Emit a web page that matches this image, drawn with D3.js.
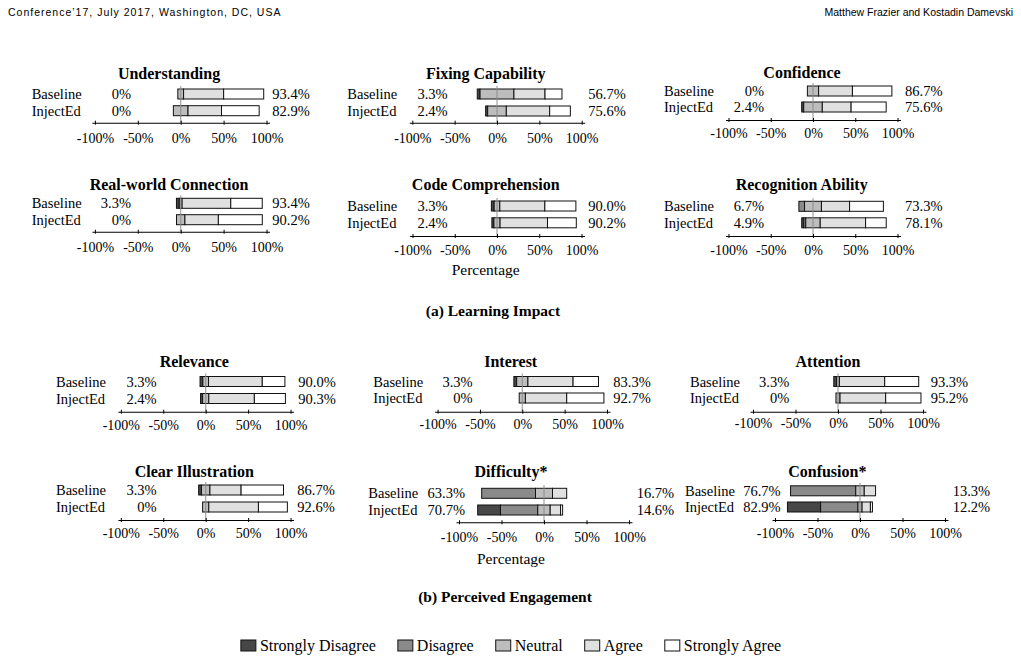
<!DOCTYPE html>
<html><head><meta charset="utf-8">
<script src="https://cdn.jsdelivr.net/npm/d3@7"></script>
<style>
body{margin:0;background:#fff}
svg{display:block}
text{font-family:"Liberation Serif","Times New Roman",serif;fill:#000}
</style>
</head><body>
<svg id="c" width="1021" height="661"></svg>
<script>
// ---------- data ----------
const categories = ["Understanding","Fixing Capability","Confidence","Real-world Connection","Code Comprehension","Recognition Ability",
  "Relevance","Interest","Attention","Clear Illustration","Difficulty*","Confusion*"];
const groups = ["Baseline","InjectEd"];
const levels = ["Strongly Disagree","Disagree","Neutral","Agree","Strongly Agree"];
const tickValues = [-100,-50,0,50,100];
const tickLabels = ["-100%","-50%","0%","50%","100%"];
const sections = ["(a) Learning Impact","(b) Perceived Engagement"];
const axisTitle = "Percentage";

// Baseline responses (%)
const baselineSD = [0, 3.3, 0, 3.3, 3.3, 0,   3.3, 3.3, 3.3, 3.3, 0, 0];
const baselineD  = [0, 0,   0, 0,   0,   6.7, 0,   0,   0,   0,   63.3, 76.7];
const baselineN  = [6.7, 40.0, 13.3, 3.3, 6.7, 20.0, 6.7, 13.3, 3.3, 10.0, 20.0, 10.0];
const baselineA  = [46.7, 36.7, 40.0, 56.7, 53.3, 33.3, 63.3, 53.3, 53.3, 36.7, 16.7, 13.3];
const baselineSA = [46.7, 20.0, 46.7, 36.7, 36.7, 40.0, 26.7, 30.0, 40.0, 50.0, 0, 0];
// InjectEd responses (%)
const injectedSD = [0, 2.4, 2.4, 0, 2.4, 2.4, 2.4, 0, 0, 0, 26.8, 39.0];
const injectedD  = [0, 0,   0,   0, 0,   2.4, 0,   0, 0, 0, 43.9, 43.9];
const injectedN  = [17.1, 22.0, 22.0, 9.8, 7.3, 17.1, 7.3, 7.3, 4.8, 7.3, 14.6, 4.9];
const injectedA  = [39.0, 51.2, 34.1, 39.0, 56.1, 53.7, 53.7, 48.8, 53.7, 58.5, 12.2, 9.8];
const injectedSA = [43.9, 24.4, 41.5, 51.2, 34.1, 24.4, 36.6, 43.9, 41.5, 34.1, 2.4, 2.4];
// printed totals
const baselineLow  = ["0%","3.3%","0%","3.3%","3.3%","6.7%","3.3%","3.3%","3.3%","3.3%","63.3%","76.7%"];
const baselineHigh = ["93.4%","56.7%","86.7%","93.4%","90.0%","73.3%","90.0%","83.3%","93.3%","86.7%","16.7%","13.3%"];
const injectedLow  = ["0%","2.4%","2.4%","0%","2.4%","4.9%","2.4%","0%","0%","0%","70.7%","82.9%"];
const injectedHigh = ["82.9%","75.6%","75.6%","90.2%","90.2%","78.1%","90.3%","92.7%","95.2%","92.6%","14.6%","12.2%"];

// ---------- layout (pixels) ----------
const colors = ["#474747","#8a8a8a","#bdbdbd","#e0e0e0","#ffffff"];
const L = [
 {x0:180.7,k:0.858,tx:169,  ty:73,   yB:94,   yI:110.7,ax:122.7,tk:138,  nx:31.7, lx:131,  hx:272.3},
 {x0:497,  k:0.847,tx:485.7,ty:73,   yB:94,   yI:111,  ax:122.7,tk:137.7,nx:347.3,lx:447.7,hx:588.3},
 {x0:813,  k:0.845,tx:802,  ty:72.7, yB:91,   yI:107,  ax:120,  tk:132.7,nx:664,  lx:764,  hx:905},
 {x0:180.7,k:0.858,tx:169,  ty:184,  yB:203.3,yI:219.7,ax:231.7,tk:246.7,nx:31.7, lx:131,  hx:272.3},
 {x0:497,  k:0.845,tx:485.7,ty:184,  yB:206,  yI:222.8,ax:236,  tk:250,  nx:347.3,lx:447.7,hx:588.3, xl:270},
 {x0:813,  k:0.845,tx:801.7,ty:184,  yB:206.3,yI:222.8,ax:236,  tk:250,  nx:664,  lx:764,  hx:905},
 {x0:205.7,k:0.8485,tx:194.3,ty:361, yB:381.5,yI:398.5,ax:411.7,tk:425,  nx:56,   lx:156.7,hx:298.3},
 {x0:522.3,k:0.847,tx:510.7,ty:361,  yB:381.5,yI:398,  ax:411.7,tk:424.3,nx:373.3,lx:472.7,hx:613.3},
 {x0:838,  k:0.85, tx:828,  ty:361,  yB:381.5,yI:398,  ax:411.7,tk:423.3,nx:690,  lx:789.3,hx:930.7},
 {x0:205.7,k:0.8485,tx:194.3,ty:471.7,yB:490, yI:507,  ax:520,  tk:532.7,nx:56,   lx:156.7,hx:297.3},
 {x0:544,  k:0.85, tx:511,  ty:471.7,yB:493.3,yI:510,  ax:522.3,tk:537.3,nx:368.3,lx:465,  hx:636.7, xl:558.3},
 {x0:860,  k:0.85, tx:827.3,ty:471.7,yB:490.8,yI:507,  ax:520,  tk:532.7,nx:685,  lx:780.7,hx:952.7}
];
const sectionPos = [{x:493,y:311},{x:505,y:597}];

const svg = d3.select("#c");
const FS = 14.5;

// header
svg.append("text").attr("x",8).attr("y",16).style("font-family","'Liberation Sans',sans-serif")
  .style("font-size","10.5px").style("letter-spacing","1px").text("Conference’17, July 2017, Washington, DC, USA");
svg.append("text").attr("x",1013).attr("y",16).attr("text-anchor","end").style("font-family","'Liberation Sans',sans-serif")
  .style("font-size","10.5px").text("Matthew Frazier and Kostadin Damevski");

categories.forEach((cat,i)=>{
  const p = L[i];
  const g = svg.append("g");
  const x = d3.scaleLinear().domain([-103.5,103.5]).range([p.x0-103.5*p.k, p.x0+103.5*p.k]);
  const y = d3.scalePoint().domain(groups).range([p.yB,p.yI]);
  const rows = [
    {grp:"Baseline", v:[baselineSD[i],baselineD[i],baselineN[i],baselineA[i],baselineSA[i]], lo:baselineLow[i], hi:baselineHigh[i]},
    {grp:"InjectEd", v:[injectedSD[i],injectedD[i],injectedN[i],injectedA[i],injectedSA[i]], lo:injectedLow[i], hi:injectedHigh[i]}
  ];
  const bh = 10;
  rows.forEach(r=>{
    let start = -(r.v[0]+r.v[1]+r.v[2]/2);
    const segs = r.v.map((val,j)=>{const s={x0:start,x1:start+val,j}; start+=val; return s;});
    g.selectAll(null).data(segs.filter(s=>s.x1-s.x0>0)).enter().append("rect")
      .attr("x",s=>x(s.x0)).attr("width",s=>x(s.x1)-x(s.x0))
      .attr("y",y(r.grp)-bh/2).attr("height",bh)
      .attr("fill",s=>colors[s.j]).attr("stroke","#111").attr("stroke-width",1);
    g.append("text").attr("x",p.nx).attr("y",y(r.grp)).attr("dy","0.35em").style("font-size",FS+"px").text(r.grp);
    g.append("text").attr("x",p.lx).attr("y",y(r.grp)).attr("dy","0.35em").attr("text-anchor","end").style("font-size",FS+"px").text(r.lo);
    g.append("text").attr("x",p.hx).attr("y",y(r.grp)).attr("dy","0.35em").style("font-size",FS+"px").text(r.hi);
  });
  // zero line
  g.append("line").attr("x1",x(0)).attr("x2",x(0)).attr("y1",p.yB-bh/2-3).attr("y2",p.ax)
    .attr("stroke","#8c8c8c").attr("stroke-width",1.2).attr("opacity",0.8);
  // axis
  const axis = d3.axisBottom(x).tickValues(tickValues).tickFormat((d,j)=>tickLabels[j]).tickSize(3).tickSizeOuter(0);
  const ag = g.append("g").attr("transform",`translate(0,${p.ax})`).call(axis);
  ag.select(".domain").attr("stroke","#000").attr("stroke-width",1.1);
  ag.selectAll(".tick line").attr("stroke","#000").attr("y1",-2).attr("y2",2);
  ag.selectAll(".tick text").attr("y",p.tk-p.ax).attr("dy","0.35em")
    .style("font-family","'Liberation Serif',serif").style("font-size","14px").attr("fill","#000");
  // title
  g.append("text").attr("x",p.tx).attr("y",p.ty).attr("dy","0.35em").attr("text-anchor","middle")
    .style("font-size","16px").style("font-weight","bold").text(cat);
  if(p.xl){
    g.append("text").attr("x",p.tx).attr("y",p.xl).attr("dy","0.35em").attr("text-anchor","middle")
      .style("font-size","15.5px").text(axisTitle);
  }
});

sections.forEach((s,i)=>{
  svg.append("text").attr("x",sectionPos[i].x).attr("y",sectionPos[i].y).attr("dy","0.35em").attr("text-anchor","middle")
    .style("font-size","15.5px").style("font-weight","bold").text(s);
});

// legend: laid out sequentially from measured text widths
const lg = svg.append("g");
const legFS = 16, sw = 15, sh = 11, sgap = 4, itemGap = 22;
const items = levels.map((lv,j)=>{
  const t = lg.append("text").attr("y",645.5).attr("dy","0.35em").style("font-size",legFS+"px").text(lv);
  const r = lg.append("rect").attr("y",640).attr("width",sw).attr("height",sh)
    .attr("fill",colors[j]).attr("stroke","#111").attr("stroke-width",1);
  return {t,r,w:t.node().getComputedTextLength()};
});
const total = d3.sum(items,d=>sw+sgap+d.w) + itemGap*(items.length-1);
let cx = 511 - total/2;
items.forEach(d=>{
  d.r.attr("x",cx); d.t.attr("x",cx+sw+sgap);
  cx += sw+sgap+d.w+itemGap;
});
</script>
</body></html>
